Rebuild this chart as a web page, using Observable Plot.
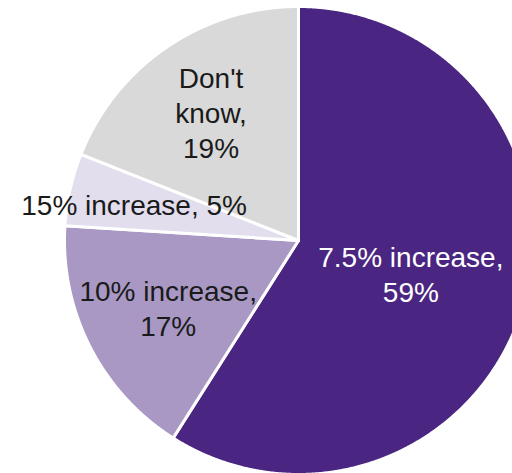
<!DOCTYPE html>
<html>
<head>
<meta charset="utf-8">
<script src="https://cdn.jsdelivr.net/npm/d3@7"></script>
<script src="https://cdn.jsdelivr.net/npm/@observablehq/plot@0.6"></script>
<style>
  html, body { margin: 0; padding: 0; background: #fff; }
  #chart { width: 512px; height: 473px; overflow: hidden; }
</style>
</head>
<body>
<div id="chart"></div>
<script>
// ---- data ----
const categories = ["7.5% increase", "10% increase", "15% increase", "Don't know"];
const shares = [59, 17, 5, 19];
const colors = ["#4A2682", "#A898C3", "#E3DEEE", "#D9D9D9"];
const labelInk = ["#FFFFFF", "#1A1A1A", "#1A1A1A", "#1A1A1A"];

// ---- layout ----
const W = 512, H = 473;
const cx = 298, cy = 240, R = 234;           // pie centre and radius in pixels
const labelRadius = [0.50, 0.625, 0.72, 0.665]; // label distance as fraction of radius
const wrapLabel = [true, true, false, true];

const arcs = d3.pie().sort(null).value(d => d)(shares);

// slice outlines in unit-radius coordinates (y up)
const outline = [];
arcs.forEach((a, i) => {
  const key = categories[i];
  outline.push({key, x: 0, y: 0});
  const n = Math.max(2, Math.ceil((a.endAngle - a.startAngle) / 0.004));
  for (let k = 0; k <= n; k++) {
    const t = a.startAngle + (a.endAngle - a.startAngle) * k / n;
    outline.push({key, x: Math.sin(t), y: Math.cos(t)});
  }
  outline.push({key, x: 0, y: 0});
});

const labels = arcs.map((a, i) => {
  const mid = (a.startAngle + a.endAngle) / 2;
  const f = labelRadius[i];
  let name = categories[i];
  let text;
  if (categories[i] === "Don't know") text = "Don't\nknow,\n" + shares[i] + "%";
  else text = name + "," + (wrapLabel[i] ? "\n" : " ") + shares[i] + "%";
  return {x: Math.sin(mid) * f, y: Math.cos(mid) * f, text, ink: labelInk[i]};
});

const textOpts = {
  x: "x", y: "y", text: "text",
  fontSize: 28, lineHeight: 1.25,
  fontFamily: "Liberation Sans, Arial, Helvetica, sans-serif",
  textAnchor: "middle", lineAnchor: "middle"
};

const chart = Plot.plot({
  width: W, height: H,
  margin: 0,
  x: {domain: [-cx / R, (W - cx) / R], axis: null},
  y: {domain: [-(H - cy) / R, cy / R], axis: null},
  color: {domain: categories, range: colors},
  style: {background: "white", overflow: "hidden"},
  marks: [
    Plot.line(outline, {
      x: "x", y: "y", z: "key", fill: "key",
      stroke: "white", strokeWidth: 3, strokeLinejoin: "round", curve: "linear"
    }),
    Plot.text(labels.filter(d => d.ink === "#FFFFFF"), {...textOpts, fill: "#FFFFFF"}),
    Plot.text(labels.filter(d => d.ink !== "#FFFFFF"), {...textOpts, fill: "#1A1A1A"})
  ]
});
document.getElementById("chart").appendChild(chart);
</script>
</body>
</html>
